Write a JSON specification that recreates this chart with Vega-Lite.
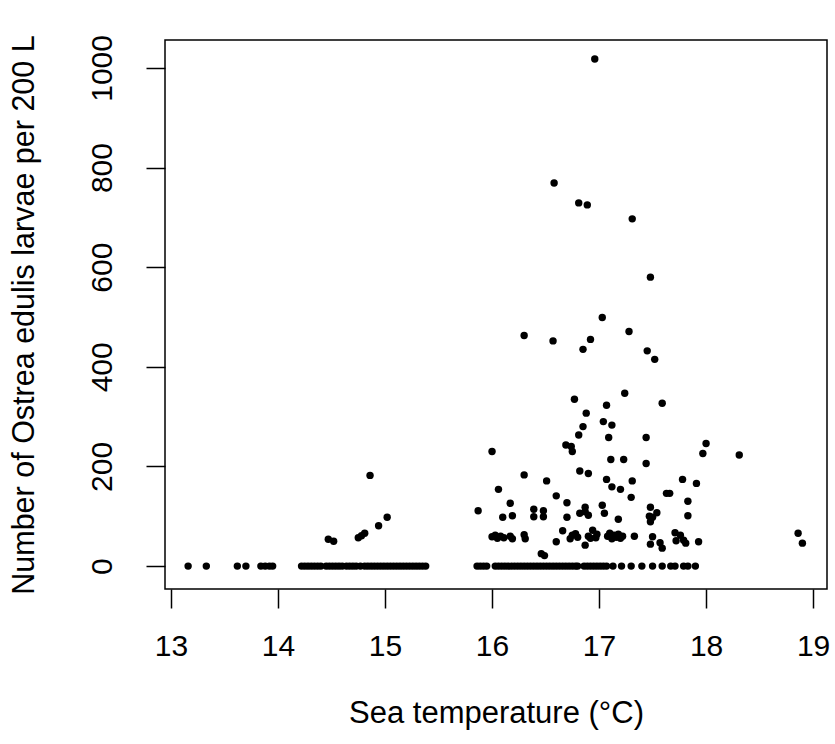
{
  "$schema": "https://vega.github.io/schema/vega-lite/v6.json",
  "width": 662,
  "height": 549,
  "autosize": {"type": "none"},
  "padding": {"left": 165, "top": 40, "right": 8, "bottom": 155},
  "background": "white",
  "config": {"view": {"stroke": "#000", "strokeWidth": 1.5}, "font": "Liberation Sans"},
  "data": {"values": [
    {"t": 13.16, "n": 0}, {"t": 13.33, "n": 0}, {"t": 13.62, "n": 0}, {"t": 13.70, "n": 0},
    {"t": 13.84, "n": 0}, {"t": 13.88, "n": 0}, {"t": 13.92, "n": 0}, {"t": 13.95, "n": 0},
    {"t": 14.22, "n": 0}, {"t": 14.25, "n": 0}, {"t": 14.28, "n": 0}, {"t": 14.31, "n": 0},
    {"t": 14.34, "n": 0}, {"t": 14.37, "n": 0}, {"t": 14.40, "n": 0}, {"t": 14.45, "n": 0},
    {"t": 14.48, "n": 0}, {"t": 14.51, "n": 0}, {"t": 14.54, "n": 0}, {"t": 14.57, "n": 0},
    {"t": 14.60, "n": 0}, {"t": 14.64, "n": 0}, {"t": 14.67, "n": 0}, {"t": 14.70, "n": 0},
    {"t": 14.73, "n": 0}, {"t": 14.77, "n": 0}, {"t": 14.81, "n": 0}, {"t": 14.84, "n": 0},
    {"t": 14.87, "n": 0}, {"t": 14.90, "n": 0}, {"t": 14.93, "n": 0}, {"t": 14.96, "n": 0},
    {"t": 14.99, "n": 0}, {"t": 15.02, "n": 0}, {"t": 15.05, "n": 0}, {"t": 15.08, "n": 0},
    {"t": 15.11, "n": 0}, {"t": 15.14, "n": 0}, {"t": 15.17, "n": 0}, {"t": 15.20, "n": 0},
    {"t": 15.23, "n": 0}, {"t": 15.26, "n": 0}, {"t": 15.29, "n": 0}, {"t": 15.32, "n": 0},
    {"t": 15.35, "n": 0}, {"t": 15.38, "n": 0},
    {"t": 15.86, "n": 0}, {"t": 15.89, "n": 0}, {"t": 15.92, "n": 0}, {"t": 15.95, "n": 0},
    {"t": 16.03, "n": 0}, {"t": 16.06, "n": 0}, {"t": 16.09, "n": 0}, {"t": 16.12, "n": 0},
    {"t": 16.15, "n": 0}, {"t": 16.18, "n": 0}, {"t": 16.21, "n": 0}, {"t": 16.24, "n": 0},
    {"t": 16.27, "n": 0}, {"t": 16.30, "n": 0}, {"t": 16.33, "n": 0}, {"t": 16.36, "n": 0},
    {"t": 16.39, "n": 0}, {"t": 16.42, "n": 0}, {"t": 16.45, "n": 0}, {"t": 16.48, "n": 0},
    {"t": 16.51, "n": 0}, {"t": 16.54, "n": 0}, {"t": 16.57, "n": 0}, {"t": 16.60, "n": 0},
    {"t": 16.63, "n": 0}, {"t": 16.66, "n": 0}, {"t": 16.69, "n": 0}, {"t": 16.72, "n": 0},
    {"t": 16.75, "n": 0}, {"t": 16.78, "n": 0}, {"t": 16.80, "n": 0},
    {"t": 16.86, "n": 0}, {"t": 16.89, "n": 0}, {"t": 16.92, "n": 0}, {"t": 16.95, "n": 0},
    {"t": 16.98, "n": 0}, {"t": 17.01, "n": 0}, {"t": 17.04, "n": 0}, {"t": 17.07, "n": 0},
    {"t": 17.13, "n": 0}, {"t": 17.21, "n": 0}, {"t": 17.30, "n": 0}, {"t": 17.40, "n": 0},
    {"t": 17.50, "n": 0}, {"t": 17.59, "n": 0}, {"t": 17.67, "n": 0}, {"t": 17.71, "n": 0},
    {"t": 17.79, "n": 0}, {"t": 17.83, "n": 0}, {"t": 17.90, "n": 0},
    {"t": 14.47, "n": 54}, {"t": 14.52, "n": 50}, {"t": 14.75, "n": 57}, {"t": 14.78, "n": 61},
    {"t": 14.81, "n": 66}, {"t": 14.86, "n": 182}, {"t": 14.94, "n": 81}, {"t": 15.02, "n": 98},
    {"t": 15.87, "n": 111}, {"t": 16.00, "n": 230}, {"t": 16.06, "n": 154}, {"t": 16.17, "n": 126},
    {"t": 16.10, "n": 98}, {"t": 16.19, "n": 101},
    {"t": 16.00, "n": 59}, {"t": 16.03, "n": 62}, {"t": 16.05, "n": 56}, {"t": 16.08, "n": 60},
    {"t": 16.11, "n": 57}, {"t": 16.17, "n": 60}, {"t": 16.19, "n": 55},
    {"t": 16.30, "n": 63}, {"t": 16.31, "n": 55}, {"t": 16.30, "n": 183},
    {"t": 16.39, "n": 114}, {"t": 16.39, "n": 99}, {"t": 16.48, "n": 111}, {"t": 16.48, "n": 99},
    {"t": 16.46, "n": 25}, {"t": 16.49, "n": 21}, {"t": 16.51, "n": 171}, {"t": 16.60, "n": 141},
    {"t": 16.70, "n": 127}, {"t": 16.70, "n": 98}, {"t": 16.60, "n": 49}, {"t": 16.66, "n": 71},
    {"t": 16.73, "n": 55}, {"t": 16.75, "n": 62}, {"t": 16.78, "n": 65}, {"t": 16.80, "n": 58},
    {"t": 16.69, "n": 243}, {"t": 16.74, "n": 240}, {"t": 16.75, "n": 230}, {"t": 16.81, "n": 263},
    {"t": 16.85, "n": 280}, {"t": 16.82, "n": 191}, {"t": 16.90, "n": 186},
    {"t": 16.87, "n": 118}, {"t": 16.87, "n": 109}, {"t": 16.82, "n": 106}, {"t": 16.90, "n": 102},
    {"t": 16.87, "n": 42}, {"t": 16.90, "n": 60}, {"t": 16.94, "n": 72}, {"t": 16.97, "n": 57},
    {"t": 16.92, "n": 56}, {"t": 16.98, "n": 64},
    {"t": 17.03, "n": 122}, {"t": 17.05, "n": 106}, {"t": 17.04, "n": 290}, {"t": 17.12, "n": 283},
    {"t": 17.09, "n": 258}, {"t": 17.07, "n": 174}, {"t": 17.12, "n": 159}, {"t": 17.20, "n": 154},
    {"t": 17.11, "n": 214}, {"t": 17.23, "n": 214}, {"t": 17.18, "n": 94},
    {"t": 17.08, "n": 60}, {"t": 17.10, "n": 66}, {"t": 17.12, "n": 55}, {"t": 17.14, "n": 62},
    {"t": 17.16, "n": 58}, {"t": 17.18, "n": 64}, {"t": 17.20, "n": 56}, {"t": 17.22, "n": 60},
    {"t": 17.33, "n": 60}, {"t": 17.31, "n": 171}, {"t": 17.30, "n": 138}, {"t": 17.44, "n": 258},
    {"t": 17.44, "n": 206}, {"t": 17.48, "n": 118}, {"t": 17.50, "n": 98}, {"t": 17.48, "n": 89},
    {"t": 17.54, "n": 107}, {"t": 17.47, "n": 100},
    {"t": 17.50, "n": 59}, {"t": 17.48, "n": 44}, {"t": 17.57, "n": 47}, {"t": 17.59, "n": 36},
    {"t": 17.63, "n": 146}, {"t": 17.66, "n": 146}, {"t": 17.78, "n": 174}, {"t": 17.83, "n": 130},
    {"t": 17.83, "n": 101}, {"t": 17.71, "n": 67}, {"t": 17.76, "n": 62}, {"t": 17.79, "n": 52},
    {"t": 17.81, "n": 46}, {"t": 17.72, "n": 51}, {"t": 17.91, "n": 166}, {"t": 17.93, "n": 49},
    {"t": 17.97, "n": 226}, {"t": 18.00, "n": 246}, {"t": 18.31, "n": 223},
    {"t": 18.86, "n": 66}, {"t": 18.90, "n": 46},
    {"t": 16.30, "n": 463}, {"t": 16.57, "n": 452}, {"t": 17.03, "n": 499}, {"t": 16.92, "n": 455},
    {"t": 16.85, "n": 435}, {"t": 17.28, "n": 471}, {"t": 17.45, "n": 432}, {"t": 17.52, "n": 415},
    {"t": 17.48, "n": 580}, {"t": 16.77, "n": 335}, {"t": 16.88, "n": 307}, {"t": 17.07, "n": 323},
    {"t": 17.24, "n": 347}, {"t": 17.59, "n": 327},
    {"t": 16.96, "n": 1018}, {"t": 16.58, "n": 769}, {"t": 16.81, "n": 729}, {"t": 16.89, "n": 725},
    {"t": 17.31, "n": 697}
  ]},
  "mark": {"type": "circle", "color": "#000", "opacity": 1, "size": 55},
  "encoding": {
    "x": {
      "field": "t", "type": "quantitative",
      "scale": {"domain": [12.944, 19.13], "nice": false, "zero": false},
      "axis": {
        "values": [13, 14, 15, 16, 17, 18, 19], "grid": false, "domain": false,
        "tickSize": 19, "tickColor": "#000", "tickWidth": 1.5,
        "labelFontSize": 30, "labelColor": "#000", "labelFont": "Liberation Sans",
        "labelPadding": 23, "labelFlush": false, "labelOverlap": false,
        "title": "Sea temperature (°C)", "titleFontSize": 31, "titleFontWeight": "normal",
        "titleColor": "#000", "titleFont": "Liberation Sans", "titlePadding": 37
      }
    },
    "y": {
      "field": "n", "type": "quantitative",
      "scale": {"domain": [-46, 1056], "nice": false, "zero": false},
      "axis": {
        "values": [0, 200, 400, 600, 800, 1000], "format": "d", "grid": false, "domain": false,
        "tickSize": 19, "tickColor": "#000", "tickWidth": 1.5,
        "labelFontSize": 30, "labelColor": "#000", "labelFont": "Liberation Sans",
        "labelAngle": -90, "labelAlign": "center", "labelBaseline": "bottom",
        "labelPadding": 29, "labelFlush": false, "labelOverlap": false,
        "title": "Number of Ostrea edulis larvae per 200 L", "titleFontSize": 30.5,
        "titleFontWeight": "normal", "titleColor": "#000", "titleFont": "Liberation Sans",
        "titlePadding": 48
      }
    }
  }
}
